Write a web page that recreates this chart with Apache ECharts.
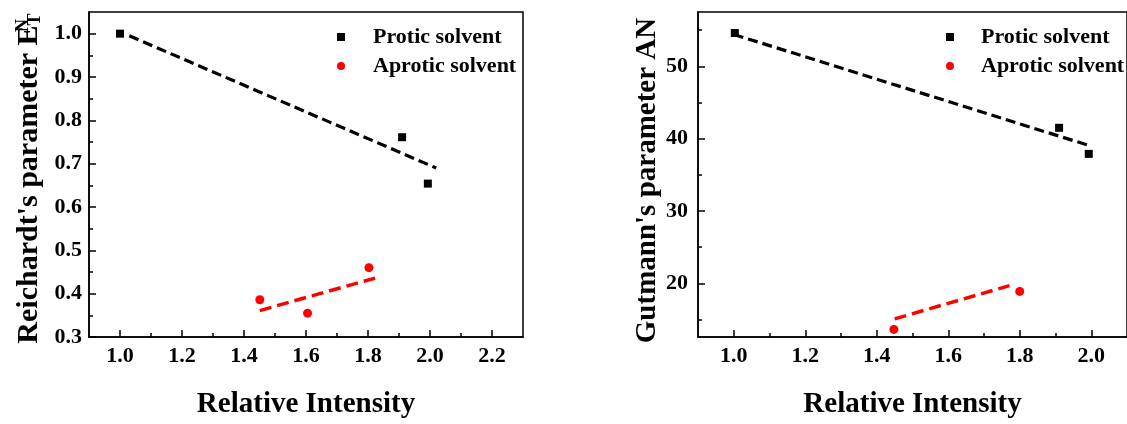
<!DOCTYPE html>
<html>
<head>
<meta charset="utf-8">
<script src="https://cdn.jsdelivr.net/npm/echarts@6/dist/echarts.min.js"></script>
<style>
  html, body { margin: 0; padding: 0; background: #fff; }
  #chart { width: 1127px; height: 424px; }
</style>
</head>
<body>
<div id="chart"></div>
<script>
// left panel: Reichardt's E_T^N vs relative intensity
const proticEt = [[1.0, 1.0], [1.91, 0.761], [1.993, 0.654]];
const aproticEt = [[1.451, 0.386], [1.605, 0.355], [1.803, 0.46]];
const proticEtFit = [[1.03, 0.995], [2.02, 0.69]];
const aproticEtFit = [[1.451, 0.361], [1.823, 0.436]];

// right panel: Gutmann's AN vs relative intensity
const proticAn = [[1.003, 54.6], [1.91, 41.5], [1.993, 37.9]];
const aproticAn = [[1.448, 13.65], [1.8, 18.9]];
const proticAnFit = [[1.0, 54.4], [1.991, 39.1]];
const aproticAnFit = [[1.45, 15.1], [1.771, 19.7]];

// ticks
const xTicksLeft = [1.0, 1.2, 1.4, 1.6, 1.8, 2.0, 2.2];
const xMinorLeft = [1.1, 1.3, 1.5, 1.7, 1.9, 2.1];
const yTicksLeft = [0.3, 0.4, 0.5, 0.6, 0.7, 0.8, 0.9, 1.0];
const yMinorLeft = [0.35, 0.45, 0.55, 0.65, 0.75, 0.85, 0.95];
const xTicksRight = [1.0, 1.2, 1.4, 1.6, 1.8, 2.0];
const xMinorRight = [1.1, 1.3, 1.5, 1.7, 1.9];
const yTicksRight = [20, 30, 40, 50];
const yMinorRight = [15, 25, 35, 45, 55];

const FONT = "'Liberation Serif', 'Times New Roman', serif";
const black = '#000';
const red = '#ff0000';

const lbl = (size) => ({color: black, fontFamily: FONT, fontWeight: 'bold', fontSize: size});

function mainAxis(gridIndex, min, max, ticks, fmt, margin, extra) {
  return Object.assign({
    type: 'value',
    gridIndex,
    min,
    max,
    axisLine: {onZero: false, lineStyle: {color: black, width: 1.5}},
    axisTick: {inside: true, length: 7, customValues: ticks, lineStyle: {color: black, width: 1.5}},
    axisLabel: Object.assign(lbl(22), {customValues: ticks, formatter: fmt, margin}),
    splitLine: {show: false},
  }, extra);
}

function minorAxis(gridIndex, min, max, ticks, position) {
  return {
    type: 'value',
    gridIndex,
    min,
    max,
    position,
    axisLine: {show: false},
    axisTick: {inside: true, length: 4, customValues: ticks, lineStyle: {color: black, width: 1.5}},
    axisLabel: {show: false},
    splitLine: {show: false},
  };
}

const f1 = v => v.toFixed(1);
const f0 = v => String(Math.round(v));

const chart = echarts.init(document.getElementById('chart'));
chart.setOption({
  animation: false,
  backgroundColor: '#fff',
  grid: [
    {left: 89, top: 12, right: 604, bottom: 76, show: true, borderColor: black, borderWidth: 1.5},
    {left: 698, top: 12, right: -6, bottom: 76, show: true, borderColor: black, borderWidth: 1.5},
  ],
  legend: [
    {
      orient: 'vertical', left: 332, top: 21, itemGap: 7, itemWidth: 8, itemHeight: 8,
      data: ['Protic solvent', 'Aprotic solvent'],
      textStyle: Object.assign(lbl(22), {padding: [0, 0, 0, 23]}),
    },
    {
      orient: 'vertical', left: 941, top: 21, itemGap: 7, itemWidth: 8, itemHeight: 8,
      data: ['Protic solvent', 'Aprotic solvent'],
      textStyle: Object.assign(lbl(22), {padding: [0, 0, 0, 22]}),
    },
  ],
  xAxis: [
    mainAxis(0, 0.9, 2.3, xTicksLeft, f1, 8, {
      position: 'bottom', name: 'Relative Intensity', nameLocation: 'middle', nameGap: 53,
      nameTextStyle: lbl(29),
    }),
    minorAxis(0, 0.9, 2.3, xMinorLeft, 'bottom'),
    mainAxis(1, 0.9, 2.1, xTicksRight, f1, 8, {
      position: 'bottom', name: 'Relative Intensity', nameLocation: 'middle', nameGap: 53,
      nameTextStyle: lbl(29),
    }),
    minorAxis(1, 0.9, 2.1, xMinorRight, 'bottom'),
  ],
  yAxis: [
    mainAxis(0, 0.3, 1.05, yTicksLeft, f1, 7, {
      position: 'left', name: "Reichardt's parameter E{n|N}{t|T}", nameLocation: 'middle', nameGap: 45,
      nameTextStyle: Object.assign(lbl(30), {
        padding: [0, 8, 0, 0],
        rich: {
          n: Object.assign(lbl(18), {verticalAlign: 'top', width: 0, align: 'left'}),
          t: Object.assign(lbl(18), {verticalAlign: 'bottom'}),
        },
      }),
    }),
    minorAxis(0, 0.3, 1.05, yMinorLeft, 'left'),
    mainAxis(1, 12.6, 57.5, yTicksRight, f0, 10, {
      position: 'left', name: "Gutmann's parameter AN", nameLocation: 'middle', nameGap: 34,
      nameTextStyle: Object.assign(lbl(29), {padding: [0, 12, 0, 0]}),
    }),
    minorAxis(1, 12.6, 57.5, yMinorRight, 'left'),
  ],
  series: [
    {name: 'Protic fit', type: 'line', xAxisIndex: 0, yAxisIndex: 0, data: proticEtFit, symbol: 'none',
      lineStyle: {color: black, width: 3.2, type: [10, 5]}},
    {name: 'Aprotic fit', type: 'line', xAxisIndex: 0, yAxisIndex: 0, data: aproticEtFit, symbol: 'none',
      lineStyle: {color: red, width: 3.5, type: [12, 6]}},
    {name: 'Protic solvent', type: 'scatter', xAxisIndex: 0, yAxisIndex: 0, data: proticEt,
      symbol: 'rect', symbolSize: 8, itemStyle: {color: black, opacity: 1}},
    {name: 'Aprotic solvent', type: 'scatter', xAxisIndex: 0, yAxisIndex: 0, data: aproticEt,
      symbol: 'circle', symbolSize: 9, itemStyle: {color: red, opacity: 1}},

    {name: 'Protic fit AN', type: 'line', xAxisIndex: 2, yAxisIndex: 2, data: proticAnFit, symbol: 'none',
      lineStyle: {color: black, width: 3.2, type: [10, 5]}},
    {name: 'Aprotic fit AN', type: 'line', xAxisIndex: 2, yAxisIndex: 2, data: aproticAnFit, symbol: 'none',
      lineStyle: {color: red, width: 3.5, type: [12, 6]}},
    {name: 'Protic solvent', type: 'scatter', xAxisIndex: 2, yAxisIndex: 2, data: proticAn,
      symbol: 'rect', symbolSize: 8, itemStyle: {color: black, opacity: 1}},
    {name: 'Aprotic solvent', type: 'scatter', xAxisIndex: 2, yAxisIndex: 2, data: aproticAn,
      symbol: 'circle', symbolSize: 9, itemStyle: {color: red, opacity: 1}},
  ],
});
</script>
</body>
</html>
